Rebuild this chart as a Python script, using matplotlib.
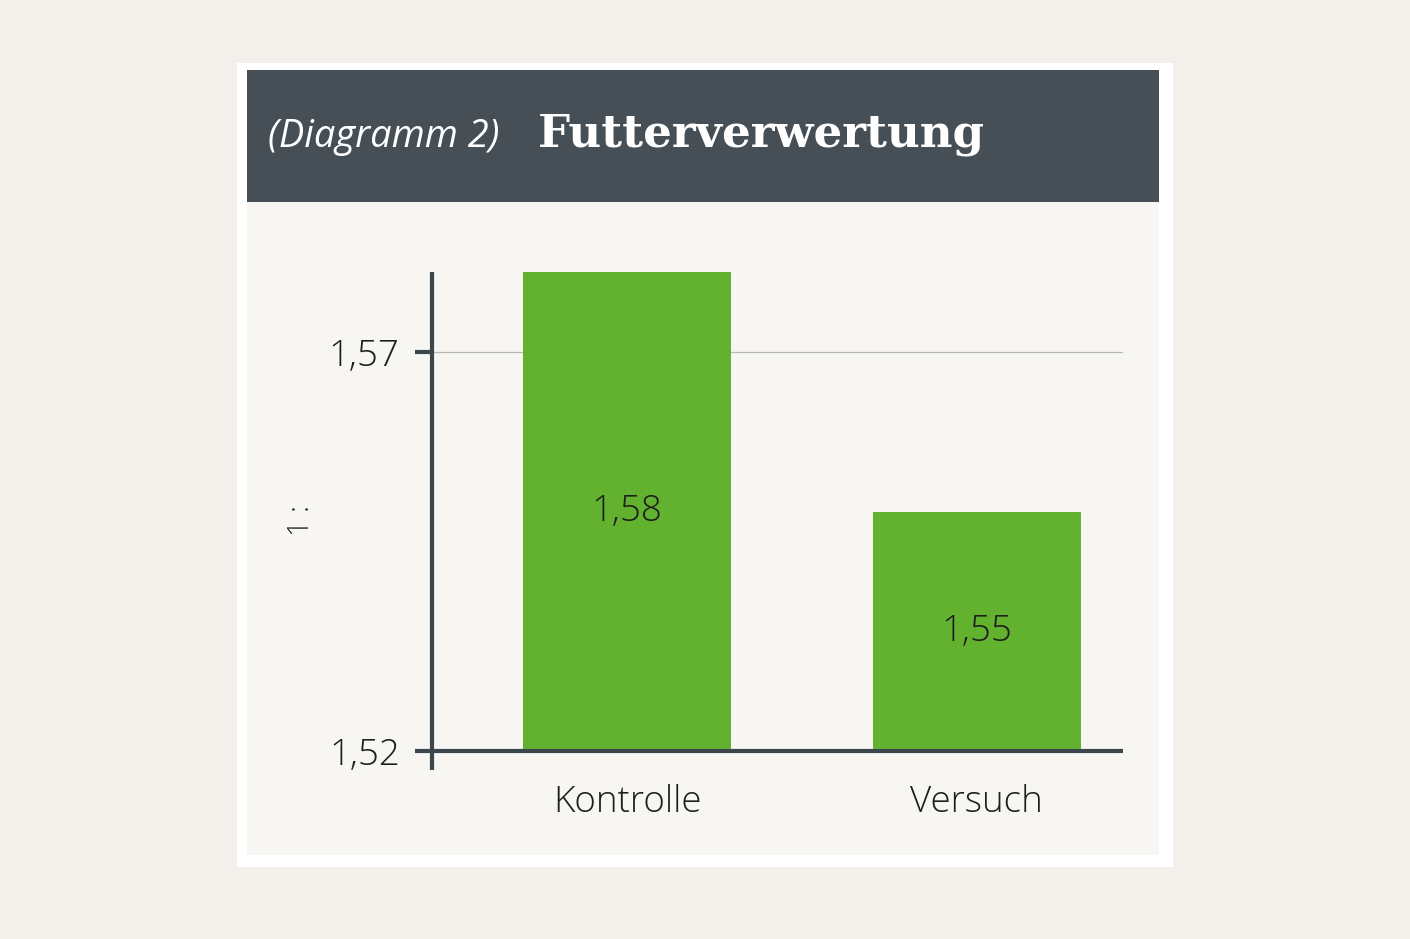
import matplotlib.pyplot as plt
from matplotlib.patches import Rectangle

# Daten
kategorien = ['Kontrolle', 'Versuch']
werte = [1.58, 1.55]
wert_labels = ['1,58', '1,55']
y_ticks = [1.52, 1.57]
y_tick_labels = ['1,52', '1,57']

W, H = 1410, 939
fig = plt.figure(figsize=(W / 100, H / 100), dpi=100)
fig.patch.set_facecolor('#f3f0eb')


def px_rect(x0, y0, x1, y1, color):
    # Rechteck in Pixelkoordinaten (y von oben)
    fig.patches.append(Rectangle((x0 / W, 1 - y1 / H), (x1 - x0) / W, (y1 - y0) / H,
                                 transform=fig.transFigure, facecolor=color,
                                 edgecolor='none', zorder=-10))


# Karte, Kopfzeile, Panel
px_rect(237, 63, 1173, 867, '#ffffff')
px_rect(247, 202, 1159, 855, '#f8f6f3')
px_rect(247, 70, 1159, 202, '#454f55')

fig.text(268 / W, 1 - 137 / H, '(Diagramm 2)', color='white', fontsize=27.4,
         style='italic', family='Open Sans', va='center', ha='left')
fig.text(538 / W, 1 - 134 / H, 'Futterverwertung', color='white', fontsize=32.6,
         weight='bold', family='DejaVu Serif', va='center', ha='left')

# Achse
x_left, x_right = 432, 1123
y_bot, y_top = 751, 272
ax = fig.add_axes([x_left / W, 1 - y_bot / H, (x_right - x_left) / W, (y_bot - y_top) / H])
ax.set_facecolor('none')
for s in ax.spines.values():
    s.set_visible(False)

x = [0, 1]
ax.set_xlim(-0.558, 1.419)
ax.set_ylim(1.52, 1.58)

ax.axhline(1.57, color='#b8b8b2', lw=0.9, zorder=1)
ax.bar(x, werte, width=0.595, color='#62b22f', zorder=2)

achse = '#3c474d'
schrift = dict(family='Open Sans', weight='light', color='#1e1e1e')
# y-Achse (reicht etwas unter die x-Achse)
ax.plot([0, 0], [-19 / 479, 1], transform=ax.transAxes, color=achse, lw=3,
        solid_capstyle='butt', clip_on=False, zorder=3)
ax.plot([0, 1], [0, 0], transform=ax.transAxes, color=achse, lw=3,
        solid_capstyle='butt', clip_on=False, zorder=3)

ax.set_xticks([])
ax.set_yticks(y_ticks)
ax.set_yticklabels(y_tick_labels, fontsize=26.5, **schrift)
ax.tick_params(axis='y', length=17 / 1.389, width=3, color=achse, pad=11)

for xi, v, lab in zip(x, werte, wert_labels):
    mid = 1.52 + (v - 1.52) / 2
    ax.text(xi, mid, lab, ha='center', va='center', fontsize=26.5, **schrift)

for xi, k in zip(x, kategorien):
    ax.text(xi, 1.52 - 51 / 7980, k, ha='center', va='center', fontsize=26.5, **schrift)

fig.text(301 / W, 1 - 521 / H, '1 :', rotation=90, fontsize=21, ha='center',
         va='center', **schrift)

fig.savefig('out.png', dpi=100, facecolor=fig.get_facecolor())
